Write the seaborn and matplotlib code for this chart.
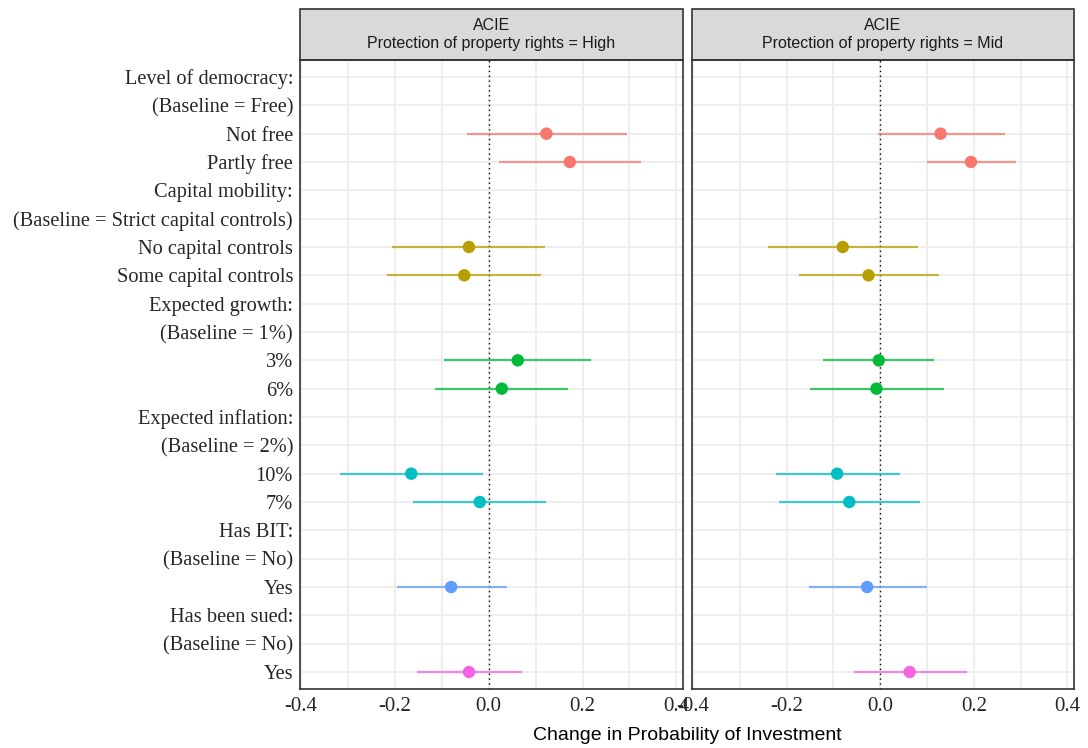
import numpy as np
import pandas as pd
import matplotlib
matplotlib.use("Agg")
import matplotlib.pyplot as plt
import seaborn as sns
from matplotlib.patches import Rectangle

# y axis rows, top to bottom
row_keys = ["dem_head", "dem_base", "Not free", "Partly free",
            "cap_head", "cap_base", "No capital controls", "Some capital controls",
            "gro_head", "gro_base", "3%", "6%",
            "inf_head", "inf_base", "10%", "7%",
            "bit_head", "bit_base", "BIT yes",
            "sue_head", "sue_base", "Sued yes"]
row_labels = ["Level of democracy:", "(Baseline = Free)", "Not free", "Partly free",
              "Capital mobility:", "(Baseline = Strict capital controls)",
              "No capital controls", "Some capital controls",
              "Expected growth:", "(Baseline = 1%)", "3%", "6%",
              "Expected inflation:", "(Baseline = 2%)", "10%", "7%",
              "Has BIT:", "(Baseline = No)", "Yes",
              "Has been sued:", "(Baseline = No)", "Yes"]

# estimated terms
terms = ["Not free", "Partly free", "No capital controls", "Some capital controls",
         "3%", "6%", "10%", "7%", "BIT yes", "Sued yes"]
groups = ["democracy", "democracy", "capital", "capital",
          "growth", "growth", "inflation", "inflation", "bit", "sued"]

# Protection of property rights = High
high_est = [0.123, 0.173, -0.042, -0.052, 0.062, 0.028, -0.165, -0.019, -0.080, -0.042]
high_lo = [-0.047, 0.022, -0.206, -0.217, -0.095, -0.115, -0.316, -0.162, -0.196, -0.153]
high_hi = [0.295, 0.325, 0.121, 0.111, 0.217, 0.170, -0.013, 0.123, 0.039, 0.071]

# Protection of property rights = Mid
mid_est = [0.129, 0.194, -0.080, -0.025, -0.003, -0.008, -0.092, -0.066, -0.028, 0.063]
mid_lo = [-0.004, 0.101, -0.240, -0.173, -0.123, -0.150, -0.223, -0.217, -0.153, -0.056]
mid_hi = [0.267, 0.290, 0.080, 0.126, 0.115, 0.136, 0.042, 0.086, 0.101, 0.185]

panels = ["High", "Mid"]
group_order = ["democracy", "capital", "growth", "inflation", "bit", "sued"]
palette = dict(zip(group_order, ["#F8766D", "#B79F00", "#00BA38", "#00BFC4", "#619CFF", "#F564E3"]))

frames = []
for level, est, lo, hi in [("High", high_est, high_lo, high_hi), ("Mid", mid_est, mid_lo, mid_hi)]:
    frames.append(pd.DataFrame({"term": terms, "group": groups, "est": est,
                                "lo": lo, "hi": hi, "panel": level}))
df = pd.concat(frames, ignore_index=True)
df["row"] = pd.Categorical(df["term"], categories=row_keys).codes

sns.set_style("white")
serif = ["Liberation Serif", "DejaVu Serif"]
sans = ["Liberation Sans", "DejaVu Sans"]
plt.rcParams["font.family"] = sans

fig = plt.figure(figsize=(10.88, 7.48), dpi=100)
W, H = 1088, 748
top, bottom = 60, 689
boxes = [(300, 683), (692, 1074)]
strip_h = 51

for i, (level, (x0, x1)) in enumerate(zip(panels, boxes)):
    ax = fig.add_axes([x0 / W, 1 - bottom / H, (x1 - x0) / W, (bottom - top) / H])
    sub = df[df["panel"] == level]

    ax.set_xticks([-0.4, -0.2, 0.0, 0.2, 0.4])
    ax.set_xticks([-0.3, -0.1, 0.1, 0.3], minor=True)
    ax.set_yticks(range(len(row_keys)))
    ax.grid(True, which="major", color="#EBEBEB", lw=1.2, zorder=0)
    ax.grid(True, which="minor", axis="x", color="#EBEBEB", lw=1.2, zorder=0)
    ax.set_axisbelow(True)

    ax.axvline(0, color="black", ls=(0, (1, 2.5)), lw=1.0, zorder=1)

    for _, r in sub.iterrows():
        ax.hlines(r["row"], r["lo"], r["hi"], color=palette[r["group"]],
                  lw=1.6, alpha=0.75, zorder=2)
    sns.scatterplot(data=sub, x="est", y="row", hue="group", palette=palette,
                    s=80, edgecolor="none", legend=False, zorder=3, ax=ax)

    ax.set_xlim(-0.402, 0.414)
    ax.set_ylim(len(row_keys) - 0.4, -0.6)
    ax.set_xlabel("")
    ax.set_ylabel("")
    ax.set_xticklabels(["-0.4", "-0.2", "0.0", "0.2", "0.4"], family=serif, fontsize=15)
    ax.tick_params(axis="x", which="major", length=4, width=1, color="#4D4D4D", pad=2)
    ax.tick_params(axis="x", which="minor", length=0)
    if i == 0:
        ax.set_yticklabels(row_labels, family=serif, fontsize=14.7)
        ax.tick_params(axis="y", length=4, width=1, color="#4D4D4D", pad=1)
    else:
        ax.set_yticklabels([])
        ax.tick_params(axis="y", length=0)
    for s in ax.spines.values():
        s.set_color("#333333")
        s.set_linewidth(1.2)

    sh = strip_h / (bottom - top)
    ax.add_patch(Rectangle((0, 1), 1, sh, transform=ax.transAxes, clip_on=False,
                           facecolor="#D9D9D9", edgecolor="#333333", lw=1.2))
    ax.text(0.5, 1 + sh / 2, f"ACIE\nProtection of property rights = {level}",
            transform=ax.transAxes, ha="center", va="center", fontsize=11.5,
            color="#1A1A1A", linespacing=1.2, family=sans)

fig.text((300 + 1074) / 2 / W, 1 - 736 / H, "Change in Probability of Investment",
         ha="center", va="center", fontsize=14, family=sans, color="black")

fig.savefig("out.png", dpi=100)
